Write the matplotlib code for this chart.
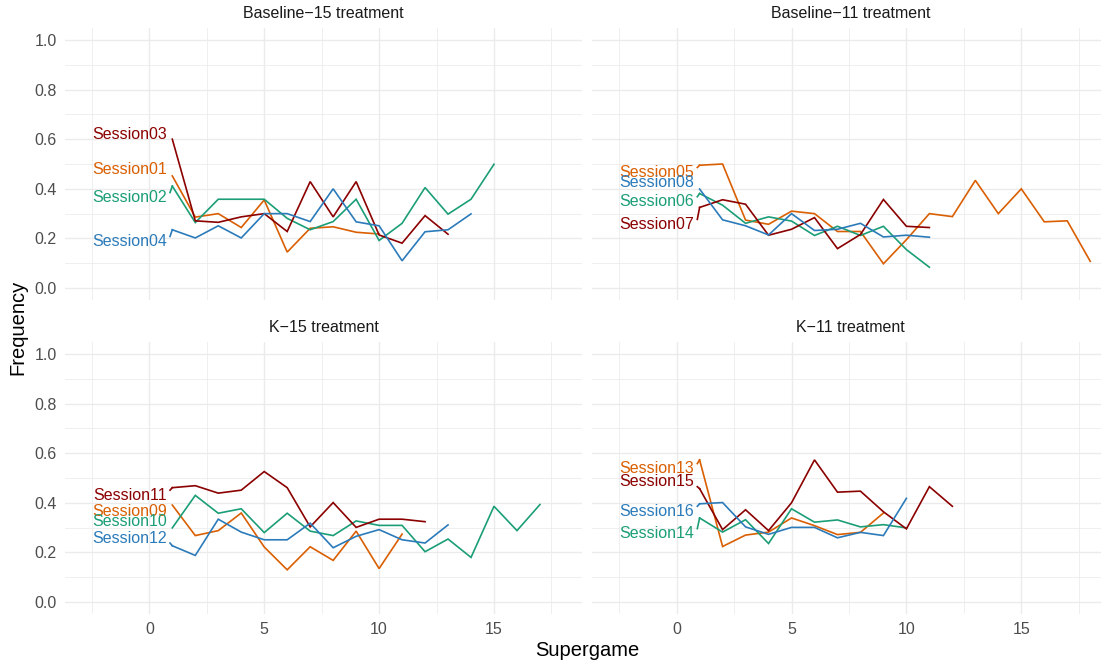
import matplotlib
matplotlib.use("Agg")
import matplotlib.pyplot as plt
import numpy as np

plt.rcParams['font.family'] = ['Liberation Sans', 'DejaVu Sans']

# ---- data: share of cooperative outcomes per supergame, by session ----
treatments = ["Baseline\u221215 treatment", "Baseline\u221211 treatment",
              "K\u221215 treatment", "K\u221211 treatment"]

session01 = [0.452, 0.286, 0.300, 0.244, 0.355, 0.145, 0.241, 0.247, 0.225, 0.218]
session02 = [0.411, 0.264, 0.358, 0.358, 0.358, 0.281, 0.235, 0.268, 0.358, 0.192,
             0.261, 0.405, 0.298, 0.358, 0.499]
session03 = [0.600, 0.271, 0.265, 0.287, 0.300, 0.228, 0.429, 0.287, 0.429, 0.214,
             0.181, 0.292, 0.217]
session04 = [0.235, 0.202, 0.251, 0.202, 0.300, 0.300, 0.268, 0.400, 0.267, 0.251,
             0.110, 0.227, 0.235, 0.299]

session05 = [0.495, 0.500, 0.274, 0.257, 0.310, 0.300, 0.228, 0.228, 0.098, 0.195,
             0.300, 0.288, 0.434, 0.300, 0.400, 0.267, 0.271, 0.108]
session06 = [0.381, 0.334, 0.261, 0.287, 0.270, 0.212, 0.249, 0.212, 0.249, 0.155, 0.084]
session07 = [0.325, 0.356, 0.338, 0.213, 0.237, 0.284, 0.159, 0.216, 0.357, 0.249, 0.244]
session08 = [0.399, 0.275, 0.251, 0.214, 0.300, 0.232, 0.237, 0.261, 0.206, 0.213, 0.205]

session09 = [0.391, 0.268, 0.288, 0.359, 0.222, 0.130, 0.223, 0.168, 0.286, 0.135, 0.274]
session10 = [0.299, 0.430, 0.358, 0.376, 0.280, 0.358, 0.286, 0.268, 0.327, 0.309,
             0.309, 0.203, 0.254, 0.180, 0.386, 0.288, 0.393]
session11 = [0.461, 0.469, 0.439, 0.451, 0.526, 0.461, 0.303, 0.401, 0.301, 0.334,
             0.334, 0.324]
session12 = [0.227, 0.188, 0.334, 0.282, 0.251, 0.251, 0.318, 0.219, 0.265, 0.292,
             0.251, 0.238, 0.311]

session13 = [0.573, 0.224, 0.270, 0.282, 0.339, 0.308, 0.272, 0.281, 0.359]
session14 = [0.339, 0.282, 0.332, 0.236, 0.376, 0.322, 0.331, 0.303, 0.312, 0.299]
session15 = [0.457, 0.292, 0.372, 0.288, 0.400, 0.573, 0.443, 0.447, 0.364, 0.295,
             0.465, 0.386]
session16 = [0.396, 0.401, 0.303, 0.273, 0.301, 0.301, 0.259, 0.281, 0.268, 0.418]

panels = [
    [("Session01", session01), ("Session02", session02),
     ("Session03", session03), ("Session04", session04)],
    [("Session05", session05), ("Session06", session06),
     ("Session07", session07), ("Session08", session08)],
    [("Session09", session09), ("Session10", session10),
     ("Session11", session11), ("Session12", session12)],
    [("Session13", session13), ("Session14", session14),
     ("Session15", session15), ("Session16", session16)],
]

# label heights after de-overlapping
label_y = {
    "Session01": 0.476, "Session02": 0.365, "Session03": 0.620, "Session04": 0.188,
    "Session05": 0.466, "Session06": 0.348, "Session07": 0.257, "Session08": 0.425,
    "Session09": 0.366, "Session10": 0.324, "Session11": 0.431, "Session12": 0.258,
    "Session13": 0.538, "Session14": 0.276, "Session15": 0.485, "Session16": 0.366,
}

palette = ["#D95F02", "#1B9E77", "#8B0000", "#2B7BBA"]   # orange, green, dark red, blue

# ---- figure layout ----
W, H = 1101, 666
fig = plt.figure(figsize=(W / 100, H / 100), dpi=100)

pw = 517
col_left = [65, 592.3]
row_top = [28, 342]
ph = 272

XLIM = (-3.67, 18.83)
YLIM = (-0.048, 1.048)
grid_col = "#EBEBEB"
tick_col = "#4D4D4D"

axes = []
for r in range(2):
    for c in range(2):
        l = col_left[c] / W
        b = 1 - (row_top[r] + ph) / H
        ax = fig.add_axes([l, b, pw / W, ph / H])
        axes.append(ax)

for i, ax in enumerate(axes):
    r, c = divmod(i, 2)
    ax.set_xlim(*XLIM)
    ax.set_ylim(*YLIM)
    for s in ax.spines.values():
        s.set_visible(False)
    ax.set_facecolor("white")

    # grid
    for xv in [0, 5, 10, 15]:
        ax.axvline(xv, color=grid_col, lw=1.0, zorder=0)
    for xv in [-2.5, 2.5, 7.5, 12.5, 17.5]:
        ax.axvline(xv, color=grid_col, lw=0.55, zorder=0)
    for yv in [0, 0.2, 0.4, 0.6, 0.8, 1.0]:
        ax.axhline(yv, color=grid_col, lw=1.0, zorder=0)
    for yv in [0.1, 0.3, 0.5, 0.7, 0.9]:
        ax.axhline(yv, color=grid_col, lw=0.55, zorder=0)

    ax.set_xticks([0, 5, 10, 15])
    ax.set_yticks([0, 0.2, 0.4, 0.6, 0.8, 1.0])
    ax.tick_params(length=0, labelsize=11.5, labelcolor=tick_col, pad=6)
    if c == 0:
        ax.set_yticklabels(["0.0", "0.2", "0.4", "0.6", "0.8", "1.0"])
    else:
        ax.set_yticklabels([])
    if r == 1:
        ax.set_xticklabels(["0", "5", "10", "15"])
    else:
        ax.set_xticklabels([])

    ax.set_title(treatments[i], fontsize=11.5, color="#1A1A1A", pad=7)

    for k, (name, vals) in enumerate(panels[i]):
        col = palette[k]
        xs = np.arange(1, len(vals) + 1)
        ax.plot(xs, vals, color=col, lw=1.2, zorder=3, solid_joinstyle="miter")
        ly = label_y[name]
        ax.text(0.77, ly, name, ha="right", va="center", fontsize=11.5,
                color=col, zorder=4)
        # connector from label box to the first point
        hh = 0.02
        y0 = min(max(vals[0], ly - hh), ly + hh)
        if abs(vals[0] - y0) > 0.006:
            ax.plot([0.9, 1.0], [y0, vals[0]], color=col, lw=1.2, zorder=3)

fig.text(18 / W, 1 - 327 / H, "Frequency", rotation=90, ha="center", va="center",
         fontsize=14.5, color="black")
fig.text(587 / W, 1 - 651 / H, "Supergame", ha="center", va="center",
         fontsize=14.5, color="black")

fig.savefig("out.png", dpi=100, facecolor="white")
